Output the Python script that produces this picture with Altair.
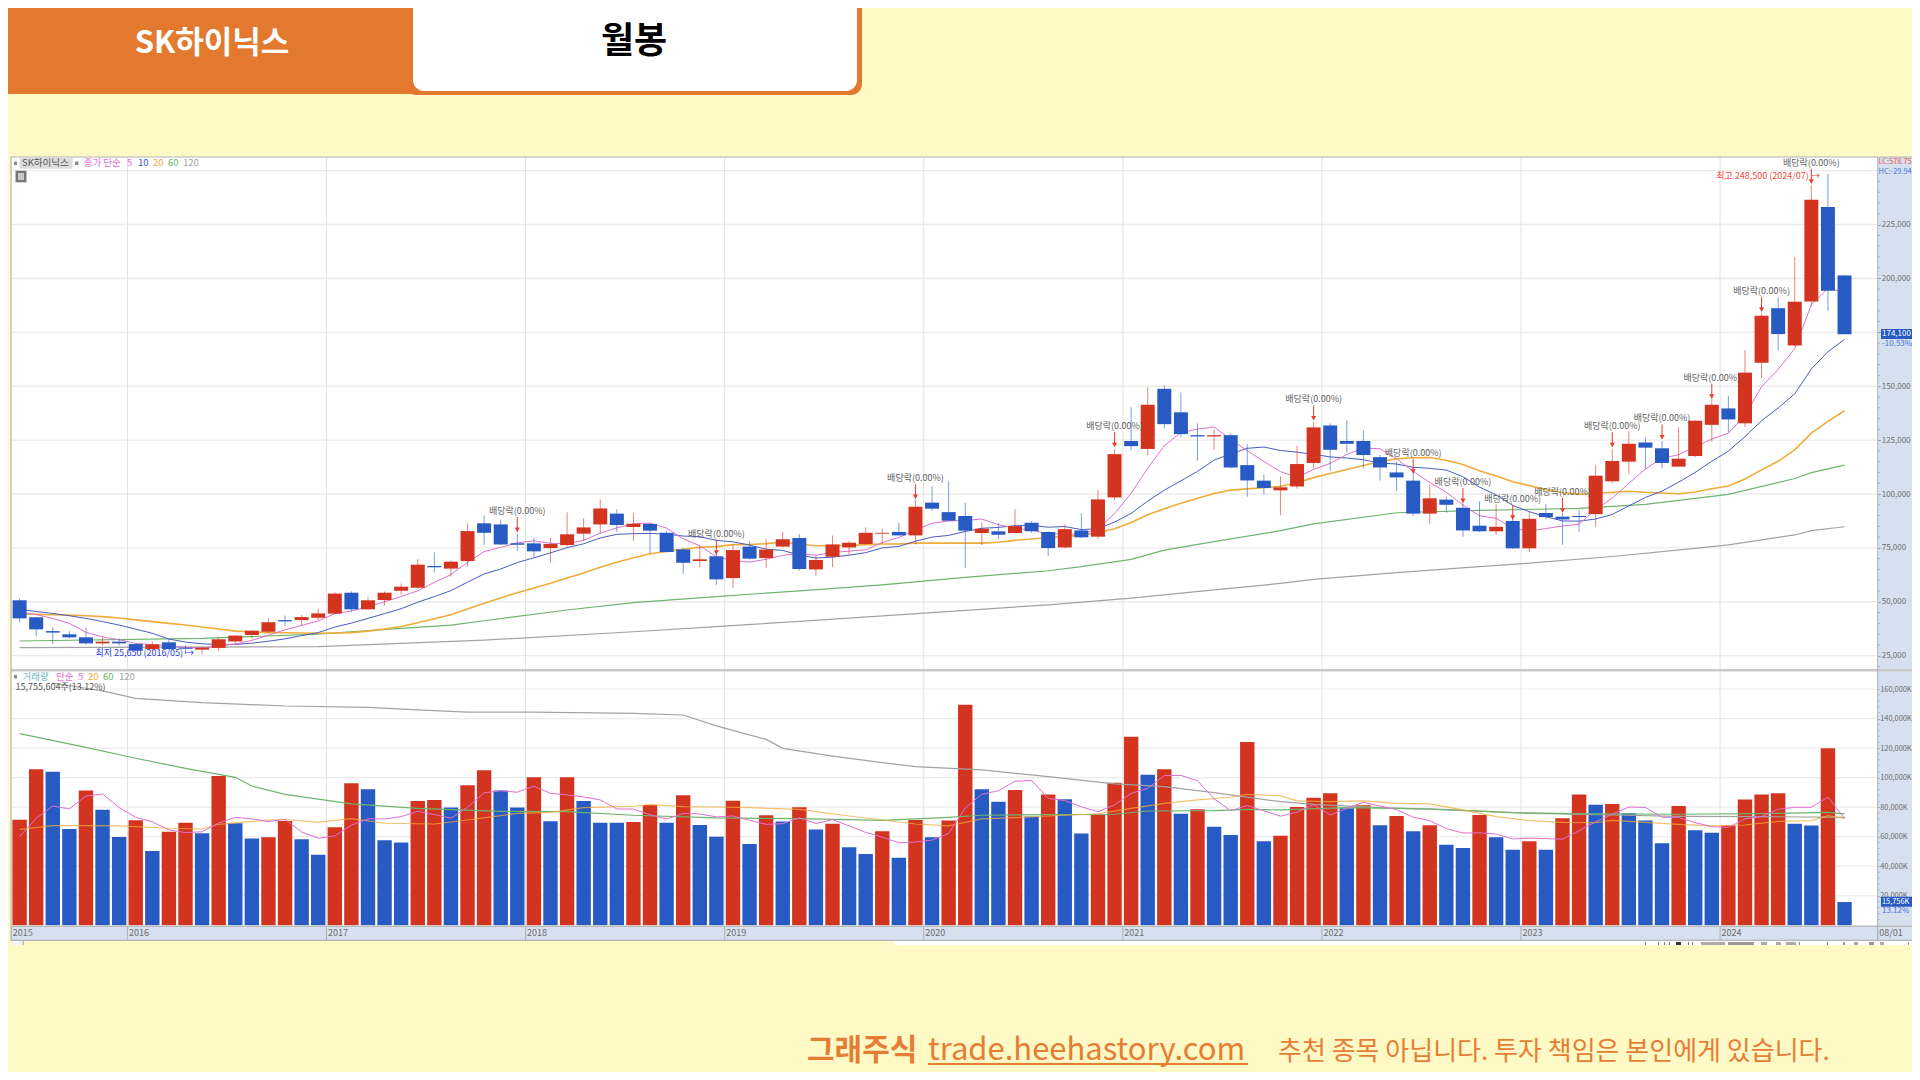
import altair as alt
import pandas as pd

FONT = "Noto Sans CJK KR"
BG = "#FEF9C5"; ORANGE = "#E2792F"; RED = "#D33420"; BLUE = "#285AC4"
PINK = "#E070D0"; INDIGO = "#4A5CC4"; AMBER = "#F0AC3A"; GREEN = "#6DB56D"; GREY = "#A2A2A2"
GUTTER = "#D6E0EE"; GRID = "#EBEBEB"; VGRID = "#E2E2E2"; LABEL = "#6E6E6E"
OFF = 8  # page margin: figures below are measured on the full 1920x1080 picture

# Monthly candles 2015/06 .. 2024/08, thousand won
opens = [50.7,42.8,36.4,34.9,33.5,30.7,31.5,30.4,28.1,31.2,
 28.7,27.8,28.6,31.6,34.6,36.1,41.5,41.5,42.6,44.5,
 54.2,46.5,50.8,55.1,56.5,66.6,65.4,68.9,86.4,85.9,
 77.1,77.1,74.9,76.3,81.6,85.9,90.9,84.7,86.1,82.0,
 74.3,68.9,71.1,61.0,75.6,70.3,75.6,79.6,65.0,70.9,
 75.2,76.8,81.6,82.4,80.8,96.0,91.6,89.8,81.9,82.7,
 81.9,86.7,82.4,75.2,83.1,80.2,98.4,124.6,120.9,148.8,
 137.9,127.3,126.7,127.3,113.4,106.2,101.7,103.5,114.4,131.8,
 124.6,124.6,117.1,110.0,106.2,90.9,97.4,93.6,85.3,82.7,
 87.5,74.8,91.2,89.5,89.8,90.7,105.9,115.0,123.9,121.2,
 112.7,117.6,132.1,139.7,132.8,160.9,186.2,168.9,189.3,233.2,201.4]
highs = [51.6,43.0,38.1,36.4,38.1,33.8,33.0,30.7,31.6,32.6,
 29.8,29.2,33.5,34.5,36.9,42.3,43.6,43.9,46.8,54.4,
 54.8,52.4,54.8,58.5,69.8,72.9,69.2,86.4,90.2,87.9,
 81.7,79.7,79.7,91.5,88.7,97.5,92.9,91.3,86.5,82.8,
 74.8,75.9,74.0,76.6,78.0,79.0,82.4,81.4,71.5,80.7,
 78.3,84.5,83.9,86.7,97.2,103.7,106.0,96.0,86.7,86.4,
 93.0,87.5,82.6,85.9,91.0,101.8,120.9,140.2,149.6,150.4,
 147.1,132.8,130.0,128.1,123.0,108.8,108.3,122.4,133.5,132.8,
 134.1,129.5,118.1,115.0,109.6,104.5,98.7,95.7,96.7,95.3,
 88.7,92.1,95.3,91.0,92.6,113.4,120.9,129.2,126.3,124.6,
 130.9,134.3,144.3,145.4,166.8,183.8,191.2,209.9,243.3,248.5,201.4]
lows = [40.5,33.8,30.4,33.0,30.1,29.6,29.6,26.9,27.2,27.6,
 25.8,25.65,27.2,30.3,32.9,35.4,38.8,38.8,41.5,44.3,
 45.4,46.2,48.3,53.3,56.1,63.5,61.6,66.3,76.2,76.3,
 73.7,70.6,68.1,75.6,78.3,81.7,82.5,78.3,72.5,72.9,
 62.9,66.0,57.8,56.5,69.7,65.7,75.2,64.4,62.1,66.0,
 71.7,76.3,76.8,80.7,76.6,92.3,87.6,65.7,76.3,79.1,
 81.7,82.0,71.2,74.8,79.6,79.1,97.2,120.4,117.9,130.3,
 126.4,115.4,120.4,111.9,98.7,99.7,90.2,102.5,111.9,110.8,
 119.3,111.9,106.2,101.4,89.9,86.1,91.3,80.2,82.4,81.0,
 74.5,73.1,88.2,76.5,82.5,84.7,104.9,109.3,111.4,111.9,
 112.7,117.0,124.3,128.6,131.1,153.9,166.8,168.6,186.9,185.0,174.1]
closes = [42.3,37.2,35.7,33.5,30.7,31.5,30.7,27.3,30.3,28.1,
 28.2,28.7,32.6,34.3,36.6,40.5,40.9,42.9,44.6,53.8,
 46.5,50.7,54.2,57.0,67.2,66.0,68.6,82.8,82.0,76.6,
 76.5,73.4,76.8,81.3,84.5,93.3,85.6,86.2,83.0,73.1,
 68.1,69.7,60.4,74.0,70.0,74.2,79.0,65.2,69.4,76.6,
 77.4,82.0,82.0,80.8,94.1,93.2,87.6,83.0,83.9,81.1,
 85.1,82.7,74.9,83.7,79.9,97.5,118.5,122.2,141.4,132.4,
 127.8,126.7,127.3,112.3,106.3,102.8,103.1,113.9,130.9,120.5,
 123.3,118.1,112.3,107.7,90.9,98.0,95.0,83.1,82.7,84.8,
 74.8,88.5,89.3,88.2,89.3,108.5,115.3,123.3,121.5,114.4,
 116.4,134.0,141.4,134.6,156.3,182.7,174.2,189.2,236.5,194.3,174.1]

ma5 = [45.4,44.0,42.3,40.0,35.9,33.7,32.4,30.7,30.1,29.6,
 28.9,28.5,29.6,30.4,32.1,34.5,37.0,39.0,41.1,44.5,
 45.7,47.7,50.0,52.4,55.1,59.0,62.6,68.3,73.3,75.2,
 77.3,78.3,77.1,76.9,78.5,81.9,84.3,86.2,86.5,84.2,
 79.2,76.0,70.9,69.1,68.4,69.7,71.5,72.5,71.6,72.9,
 73.5,74.1,77.5,79.8,83.3,86.4,87.5,87.7,88.4,85.8,
 84.1,83.2,81.5,81.5,81.3,83.7,90.9,100.4,111.9,122.4,
 128.5,130.1,131.1,125.3,120.1,115.1,110.4,107.7,111.4,114.2,
 118.3,121.3,121.0,116.4,110.5,105.4,100.8,94.9,89.9,88.7,
 84.1,82.8,84.0,85.1,86.0,92.8,98.1,104.9,111.6,116.6,
 118.2,121.9,125.5,128.2,136.5,149.8,157.8,167.4,187.8,195.4,193.7]
ma10 = [46.5,45.5,44.6,43.5,42.3,40.8,39.2,37.3,35.4,32.7,
 31.3,30.5,30.2,30.2,30.8,31.7,32.8,34.3,35.7,38.3,
 40.1,42.3,44.5,46.8,49.8,52.4,55.2,59.1,62.9,65.2,
 68.2,70.4,72.7,75.1,76.9,79.6,81.3,81.6,81.7,81.4,
 80.5,80.2,78.5,77.8,76.3,74.4,73.8,71.7,70.3,70.7,
 71.6,72.8,75.0,75.7,78.1,80.0,80.8,82.6,84.1,84.5,
 85.3,85.4,84.6,84.9,83.5,83.9,87.0,91.0,96.7,101.8,
 106.1,110.5,115.7,118.6,121.2,121.8,120.2,119.4,118.4,117.2,
 116.7,115.9,114.4,113.9,112.4,111.9,111.1,108.0,103.2,99.6,
 94.7,91.8,89.5,87.5,87.4,88.4,90.5,94.5,98.4,101.3,
 105.5,110.0,115.2,119.9,126.6,134.0,139.9,146.5,158.0,166.0,171.7]
ma20 = [44.3,44.2,44.0,43.8,43.5,43.1,42.5,41.6,40.8,40.0,
 39.2,38.3,37.4,36.4,36.0,35.7,35.6,35.5,35.4,35.5,
 35.7,36.4,37.4,38.5,40.3,42.1,44.0,46.7,49.3,51.8,
 54.2,56.4,58.6,61.0,63.4,66.0,68.3,70.4,72.3,73.3,
 74.4,75.3,75.6,76.5,76.6,77.0,77.6,76.7,76.0,76.1,
 76.1,76.5,76.8,76.8,77.2,77.2,77.3,77.2,77.2,77.6,
 78.5,79.1,79.8,80.3,80.8,82.0,83.9,86.8,90.4,93.2,
 95.7,98.0,100.2,101.8,102.4,102.9,103.6,105.2,107.6,109.5,
 111.4,113.2,115.1,116.3,116.8,116.9,115.7,113.7,110.8,108.4,
 105.7,103.9,102.0,100.7,99.9,100.2,100.8,101.3,100.8,100.5,
 100.1,100.9,102.4,103.7,107.0,111.2,115.2,120.5,128.2,133.7,138.6]
ma60_i = [0,11,18,23,26,28,33,37,42,47,52,57,62,64,67,69,72,76,78,83,88,94,98,103,107,108,110]
ma60_v = [31.8,33.0,35.0,37.7,39.2,41.2,46.2,49.6,52.4,55.1,57.8,61.3,64.4,66.3,69.7,74.0,77.9,83.0,86.1,91.3,92.4,93.3,95.2,99.8,107.2,109.9,113.4]
ma120_i = [0,18,23,28,37,42,47,55,62,67,72,76,78,83,88,91,96,101,103,107,108,110]
ma120_v = [28.7,29.2,30.7,32.2,36.1,38.5,40.9,45.0,48.6,51.7,55.5,58.5,60.4,63.5,66.3,67.9,71.0,74.8,76.4,81.0,83.0,84.8]

# Monthly volume, million shares
volume = [71.5,105.6,104.0,65.2,91.2,78.3,59.8,71.1,50.3,63.4,
 69.5,62.3,101.1,69.1,58.7,59.6,70.6,58.2,47.8,66.4,
 96.1,92.1,57.6,56.0,84.2,84.9,79.7,94.8,105.0,91.2,
 79.7,100.2,70.4,100.2,84.2,69.5,69.5,70.0,81.5,69.5,
 88.0,67.9,60.0,84.4,55.1,74.5,70.2,79.9,64.8,68.8,
 52.8,48.3,63.6,45.8,71.3,59.6,70.9,149.4,92.1,83.7,
 91.6,73.6,88.5,85.3,62.1,74.9,96.6,127.7,102.0,105.6,
 75.6,78.5,66.8,61.2,124.1,56.9,60.7,80.1,86.4,89.4,
 79.2,81.3,67.7,74.0,63.6,67.7,54.6,52.4,74.7,59.6,
 51.2,56.9,51.2,72.4,88.5,81.7,82.2,75.8,70.9,55.5,
 80.8,64.3,62.7,67.5,85.1,88.5,89.4,68.8,67.5,119.8,15.756]
vol_ma5 = [60.0,72.4,80.8,78.8,87.5,88.9,79.7,73.1,70.1,64.6,
 62.8,63.3,69.3,73.1,72.1,70.2,71.8,63.2,59.0,60.5,
 67.8,72.1,72.0,73.6,77.2,75.0,72.5,79.9,89.7,91.1,
 90.1,94.2,89.3,88.3,86.9,84.9,78.8,78.7,74.9,72.0,
 75.7,75.4,73.4,74.0,71.1,68.4,68.8,72.8,68.9,71.6,
 67.3,62.9,59.7,55.9,56.4,57.7,62.2,79.4,88.7,91.1,
 97.5,98.1,85.9,84.5,80.2,76.9,81.5,89.3,92.7,101.4,
 101.5,97.9,85.7,77.5,81.2,77.5,73.9,76.6,81.6,74.7,
 79.2,83.3,80.8,78.3,73.2,70.9,65.5,62.5,62.6,61.8,
 58.5,59.0,58.7,58.3,64.0,70.1,75.2,80.1,79.8,73.2,
 73.0,69.5,66.8,66.2,72.1,73.6,78.6,79.9,79.9,86.8,72.3]
vol_ma20_i = [0,2,4,6,9,11,12,14,16,18,20,22,25,27,30,32,34,37,38,40,42,44,47,50,52,54,56,58,60,62,65,67,69,71,73,74,76,77,79,81,83,85,87,89,91,93,95,96,98,100,102,104,106,108,109,110]
vol_ma20_v = [65.0,67.5,67.5,67.3,65.7,65.2,68.4,70.4,71.8,69.7,72.2,69.1,68.6,71.3,75.8,76.5,79.7,80.6,81.7,80.4,80.1,79.7,78.5,74.0,71.3,68.6,67.3,72.0,72.9,74.0,75.4,79.2,82.6,84.9,86.7,88.7,87.6,84.2,83.7,84.2,82.6,82.2,78.1,73.6,70.9,69.7,69.5,71.1,69.7,68.4,67.3,67.9,70.4,70.9,74.3,72.4]
vol_ma60_i = [0,4,7,10,13,14,16,20,24,29,33,37,42,47,52,56,58,62,66,68,72,74,76,80,85,90,95,100,105,109,110]
vol_ma60_v = [129.8,120.5,113.1,106.3,100.2,94.3,88.7,82.2,79.2,77.2,77.0,74.5,72.7,72.2,71.1,73.1,74.5,74.9,75.2,77.4,77.6,78.5,78.1,79.7,78.8,76.3,75.4,75.2,75.6,76.5,75.4]
vol_ma120_i = [2,4,5,7,11,16,21,24,27,31,37,40,42,45,46,49,52,54,58,62,66,69,72,76,78,82,86,91,96,100,105,110]
vol_ma120_v = [164.0,160.5,158.7,153.7,150.8,148.5,147.6,145.8,144.4,144.4,143.5,142.4,135.0,125.9,119.8,114.6,110.1,107.4,105.2,100.7,95.7,93.9,89.8,83.7,81.9,79.7,78.1,75.8,74.7,73.8,73.6,73.1]

# Ex-dividend markers
ex_i = [30,42,54,66,78,84,87,90,93,96,99,102,105,108]
ex_tip = [82.5,72.0,97.8,121.9,134.3,109.6,96.0,88.2,91.5,121.9,125.5,144.4,184.7,244.1]
ex_label = "배당락(0.00%)"

price_ticks = [25000,50000,75000,100000,125000,150000,175000,200000,225000]
price_grid = price_ticks + [250000]
volume_ticks = [20,40,60,80,100,120,140,160]
year_ticks = [-0.5,6.5,18.5,30.5,42.5,54.5,66.5,78.5,90.5,102.5,112]
year_labels = ["2015","2016","2017","2018","2019","2020","2021","2022","2023","2024","08/01"]
price_minor = [p for p in range(20000, 255000, 5000) if p % 25000]
volume_minor = [p for p in range(4, 164, 4) if p % 20]

n = len(closes)
df = pd.DataFrame({"i": range(n), "o": opens, "h": highs, "l": lows, "c": closes, "v": volume,
                   "ma5": ma5, "ma10": ma10, "ma20": ma20, "vma5": vol_ma5})
for col in ["o", "h", "l", "c", "ma5", "ma10", "ma20"]:
    df[col] = df[col] * 1000
df["lo"] = df[["o", "c"]].min(axis=1)
df["hi"] = df[["o", "c"]].max(axis=1)
df["dir"] = ["up" if c >= o else "down" for o, c in zip(df.o, df.c)]
df["vdir"] = ["up" if k == 0 or volume[k] > volume[k - 1] else "down" for k in range(n)]

xs = alt.Scale(domain=[-0.5, 112], range=[11.3 - OFF, 1877.7 - OFF], padding=0)
ps = alt.Scale(domain=[25000, 250000], range=[655.67 - OFF, 170.67 - OFF])
vs = alt.Scale(domain=[0, 160], range=[925.3 - OFF, 689 - OFF])
dirc = alt.Color("d:N", scale=alt.Scale(domain=["up", "down"], range=[RED, BLUE]), legend=None)
one = pd.DataFrame({"a": [0]})


def V(px):
    return alt.value(px - OFF)


def X(f="i"):
    return alt.X(f"{f}:Q", scale=xs, axis=None)


def PY(f):
    return alt.Y(f"{f}:Q", scale=ps, axis=None)


def VY(f):
    return alt.Y(f"{f}:Q", scale=vs, axis=None)


def box(x, x2, y, y2, color, **kw):
    return alt.Chart(one).mark_rect(color=color, **kw).encode(x=V(x), x2=V(x2), y=V(y), y2=V(y2))


def txt(s, x, y, color=LABEL, size=9, align="left", weight="normal", font=FONT):
    return alt.Chart(one).mark_text(text=s, color=color, fontSize=size, align=align, baseline="middle",
                                    fontWeight=weight, font=font).encode(x=V(x), y=V(y))


def pline(frame, field, color, width, op=1.0):
    return alt.Chart(frame).mark_line(color=color, strokeWidth=width, opacity=op).encode(x=X(), y=PY(field))


def vline(frame, color, width, op=1.0):
    return alt.Chart(frame).mark_line(color=color, strokeWidth=width, opacity=op).encode(x=X(), y=VY("y"))


layers = []
# yellow page and white plot frame; the canvas colour shows through as the axis gutters
layers += [
    box(0, 1920, 0, 157, BG),
    box(0, 1920, 941, 1090, BG),
    box(0, 11, 150, 945, BG),
    box(11, 1878, 157, 926, "#FFFFFF"),
    box(895, 1920, 941, 945, "#FFFFFF"),
    box(12, 24, 941, 945, "#F4F4F4"),
    box(22.5, 24, 941, 945, "#BDBDBD"),
    # header tabs
    box(-20, 420, -20, 94, ORANGE, cornerRadius=8),
    box(405, 862, -20, 95, ORANGE, cornerRadius=11),
    box(413, 857, -20, 91, "#FFFFFF", cornerRadius=11),
    txt("SK하이닉스", 212, 44, "#FFFFFF", 31, "center", "bold"),
    txt("월봉", 634, 42, "#000000", 36, "center", "bold"),
]
# toolbar remnants below the chart
for a, b, shade in [(1645, 1646, "#777777"), (1658, 1659, "#777777"), (1664, 1665, "#777777"), (1669, 1670, "#777777"),
                    (1676, 1681, "#333333"), (1688, 1689, "#777777"), (1692, 1693, "#777777"), (1701, 1725, "#AAAAAA"),
                    (1728, 1754, "#999999"), (1761, 1767, "#AAAAAA"), (1776, 1781, "#AAAAAA"), (1786, 1796, "#AAAAAA"),
                    (1799, 1800, "#888888"), (1827, 1828, "#777777"), (1843, 1845, "#999999"), (1854, 1858, "#AAAAAA"),
                    (1869, 1874, "#999999"), (1880, 1884, "#AAAAAA"), (1908, 1909, "#999999")]:
    layers.append(box(a, b, 942, 945, shade))

# price grid
pg = pd.DataFrame({"p": price_grid})
layers.append(alt.Chart(pg).mark_rule(color=GRID, strokeWidth=1.4).encode(
    y=alt.Y("p:Q", scale=ps, axis=None), x=V(11), x2=V(1878)))
# volume grid
vg = pd.DataFrame({"p": volume_ticks})
layers.append(alt.Chart(vg).mark_rule(color=GRID, strokeWidth=1.2).encode(
    y=VY("p"), x=V(11), x2=V(1878)))
# vertical grid and year band
yg = pd.DataFrame({"g": year_ticks, "t": year_labels})
layers.append(alt.Chart(yg).mark_rule(color=VGRID, strokeWidth=1).encode(x=X("g"), y=V(157), y2=V(926)))
layers.append(alt.Chart(yg).mark_rule(color="#A9B2BE", strokeWidth=1).encode(x=X("g"), y=V(926), y2=V(940)))
layers.append(alt.Chart(yg).mark_text(color=LABEL, fontSize=9, font=FONT, align="left", baseline="middle", dx=1.5).encode(
    x=X("g"), y=V(933), text="t:N"))

# y axes, drawn on the gutter
layers.append(alt.Chart(pd.DataFrame({"p": price_ticks})).mark_tick(opacity=0).encode(
    y=alt.Y("p:Q", scale=ps, axis=alt.Axis(
        orient="right", values=price_ticks, format=",d", title=None, domain=False, grid=False,
        tickSize=2.5, tickColor="#8A99AE", labelPadding=1, labelFontSize=8, labelFont=FONT, labelColor=LABEL,
        labelOverlap=False, labelFlush=False, labelBound=False)), x=V(1878)))
layers.append(alt.Chart(pd.DataFrame({"p": volume_ticks})).mark_tick(opacity=0).encode(
    y=alt.Y("p:Q", scale=vs, axis=alt.Axis(
        orient="right", values=volume_ticks, title=None, domain=False, grid=False,
        labelExpr="format(datum.value * 1000, ',d') + 'K'",
        tickSize=1.5, tickColor="#8A99AE", labelPadding=0.5, labelFontSize=7.4, labelFont=FONT, labelColor=LABEL,
        labelOverlap=False, labelFlush=False, labelBound=False)), x=V(1878)))
layers.append(alt.Chart(pd.DataFrame({"p": price_minor})).mark_rule(color="#A4B0C2", strokeWidth=1).encode(
    y=PY("p"), x=V(1878), x2=V(1880)))
layers.append(alt.Chart(pd.DataFrame({"p": volume_minor})).mark_rule(color="#A4B0C2", strokeWidth=1).encode(
    y=VY("p"), x=V(1878), x2=V(1879.5)))

# price moving averages, below candles
layers += [
    pline(pd.DataFrame({"i": ma120_i, "y": [v * 1000 for v in ma120_v]}), "y", GREY, 1.2),
    pline(pd.DataFrame({"i": ma60_i, "y": [v * 1000 for v in ma60_v]}), "y", GREEN, 1.2),
    pline(df, "ma20", AMBER, 1.6),
    pline(df, "ma10", INDIGO, 1),
    pline(df, "ma5", PINK, 1),
]
# candles
cd = df.assign(d=df["dir"])
layers.append(alt.Chart(cd).mark_rule(strokeWidth=1, opacity=0.6).encode(
    x=X(), y=PY("l"), y2="h:Q", color=dirc))
layers.append(alt.Chart(cd).mark_bar(size=14).encode(
    x=X(), y=PY("lo"), y2="hi:Q", color=dirc))

# ex-dividend annotations
ex = pd.DataFrame({"i": ex_i, "tip": [t * 1000 for t in ex_tip], "top": [(t + 6.8) * 1000 for t in ex_tip], "t": ex_label})
layers.append(alt.Chart(ex).mark_rule(color="#EE3A2A", strokeWidth=1).encode(x=X(), y=PY("tip"), y2="top:Q"))
layers.append(alt.Chart(ex.assign(h=ex.tip + 900)).mark_point(shape="triangle-down", filled=True, color="#EE3A2A", size=26, opacity=1).encode(
    x=X(), y=PY("h")))
layers.append(alt.Chart(ex).mark_text(color="#5E5E5E", fontSize=9, font=FONT, dy=-6, baseline="middle").encode(
    x=X(), y=PY("top"), text="t:N"))
# extreme labels
layers.append(alt.Chart(pd.DataFrame({"i": [109], "y": [248500], "t": ["최고 248,500 (2024/07) →"]})).mark_text(
    color="#F0483A", fontSize=9, font=FONT, align="right", dx=-8, dy=2, baseline="middle").encode(x=X(), y=PY("y"), text="t:N"))
layers.append(alt.Chart(pd.DataFrame({"i": [11], "y": [25650], "t": ["최저 25,650 (2016/05) →"]})).mark_text(
    color="#2A3CE0", fontSize=9, font=FONT, align="right", dx=-8, dy=-1, baseline="middle").encode(x=X(), y=PY("y"), text="t:N"))

# volume bars and averages
vd = df.assign(d=df["vdir"])
layers.append(alt.Chart(vd).mark_bar(size=14.4).encode(x=X(), y=alt.Y("v:Q", scale=vs, axis=None, stack=None), color=dirc))
layers += [
    vline(pd.DataFrame({"i": vol_ma120_i, "y": vol_ma120_v}), GREY, 1.2),
    vline(pd.DataFrame({"i": vol_ma60_i, "y": vol_ma60_v}), GREEN, 1.2),
    vline(pd.DataFrame({"i": vol_ma20_i, "y": vol_ma20_v}), AMBER, 1.2, 0.75),
    vline(pd.DataFrame({"i": list(range(n)), "y": vol_ma5}), PINK, 1),
]

# frame lines
layers += [
    box(11, 1920, 669, 671.5, "#C9C9C9"),
    box(10.5, 1920, 156.5, 157.5, "#B4B4B4"),
    box(10.5, 11.5, 157, 941, "#B4B4B4"),
    box(11, 1920, 925.5, 927, "#BDBDBD"),
    box(11, 1920, 939.7, 940.8, "#A9A9A9"),
    box(1877.3, 1878.1, 157, 940, "#9FAEC2"),
]
# legends and value tags
layers += [
    box(14, 17, 161.5, 165, "#8A8A8A"),
    box(19.6, 72.6, 158, 168.7, "#DDDDDD"),
    txt("SK하이닉스", 22, 163.3, "#555555", 9.5),
    box(75, 78.5, 161.5, 165, "#8A8A8A"),
    txt("종가 단순", 83.7, 163.3, PINK, 9.5),
    txt("5", 127, 163.3, PINK, 9.5),
    txt("10", 138, 163.3, "#3A4FC8", 9.5),
    txt("20", 153, 163.3, AMBER, 9.5),
    txt("60", 168, 163.3, GREEN, 9.5),
    txt("120", 183, 163.3, GREY, 9.5),
    box(15.5, 26.5, 170.7, 182.3, "#777777"),
    box(18, 24, 173, 180, "#C8C8C8"),
    box(14, 17, 675, 678.5, "#8A8A8A"),
    txt("거래량", 22.4, 676.7, "#6FB7C0", 9.5),
    txt("단순", 56, 676.7, PINK, 9.5),
    txt("5", 78, 676.7, PINK, 9.5),
    txt("20", 88, 676.7, AMBER, 9.5),
    txt("60", 103, 676.7, GREEN, 9.5),
    txt("120", 119, 676.7, GREY, 9.5),
    txt("15,755,604주(13.12%)", 15.5, 686.7, "#555555", 9),
    txt("LC:578.75", 1878.5, 162.3, "#E8584A", 7.4),
    txt("HC:-29.94", 1878.5, 171.7, "#4A74D8", 7.4),
    box(1881, 1920, 329, 339, BLUE),
    txt("174,100", 1882, 334, "#FFFFFF", 8),
    txt("-10.53%", 1882, 343.5, "#4A74D8", 8),
    box(1881, 1920, 896.7, 906.7, BLUE),
    txt("15,756K", 1882, 901.7, "#FFFFFF", 7.4),
    txt("13.12%", 1882, 910.7, "#4A74D8", 8),
]
# footer
layers += [
    txt("그래주식", 807, 1051, "#E57E34", 30, "left", "bold"),
    txt("trade.heehastory.com", 928, 1051, "#E57E34", 31, "left", "normal"),
    box(928, 1248, 1063, 1065, "#E57E34"),
    txt("추천 종목 아닙니다. 투자 책임은 본인에게 있습니다.", 1278, 1052, "#E57E34", 26),
]

plot_w = 1877.7 - OFF
plot_h = 926 - OFF
chart = alt.layer(*layers).resolve_scale(y="independent", color="independent").resolve_axis(y="independent").properties(
    width=plot_w, height=plot_h, background=GUTTER,
    padding={"left": 0, "top": 0, "right": 1904 - plot_w, "bottom": 1064 - plot_h},
    autosize=alt.AutoSizeParams(type="none"),
).configure_view(stroke=None)

chart.save("out.html", embed_options={"renderer": "svg", "actions": False})
